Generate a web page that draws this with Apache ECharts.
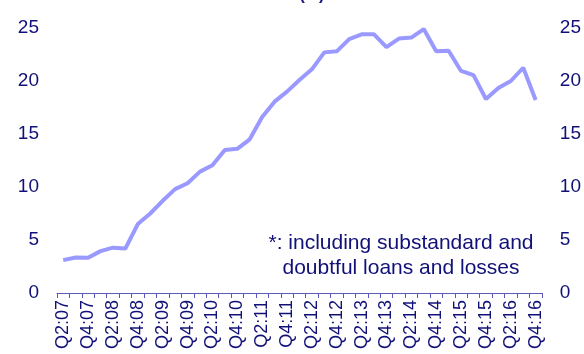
<!DOCTYPE html>
<html>
<head>
<meta charset="utf-8">
<script src="https://cdn.jsdelivr.net/npm/echarts@6/dist/echarts.min.js"></script>
<style>
html,body{margin:0;padding:0;background:#fff;}
#c{width:584px;height:354px;}
</style>
</head>
<body>
<div id="c"></div>
<script>
const quarters = ["Q2:07","Q3:07","Q4:07",
  "Q1:08","Q2:08","Q3:08","Q4:08",
  "Q1:09","Q2:09","Q3:09","Q4:09",
  "Q1:10","Q2:10","Q3:10","Q4:10",
  "Q1:11","Q2:11","Q3:11","Q4:11",
  "Q1:12","Q2:12","Q3:12","Q4:12",
  "Q1:13","Q2:13","Q3:13","Q4:13",
  "Q1:14","Q2:14","Q3:14","Q4:14",
  "Q1:15","Q2:15","Q3:15","Q4:15",
  "Q1:16","Q2:16","Q3:16","Q4:16"];
const nplRatio = [3.1,3.35,3.33,3.95,4.28,4.2,6.5,7.5,8.7,9.8,10.35,11.45,12.05,13.5,13.6,14.5,16.6,18.05,19.0,20.1,21.1,22.7,22.8,23.95,24.4,24.4,23.2,24.0,24.1,24.9,22.8,22.85,20.95,20.55,18.3,19.35,20.0,21.25,18.2];
const yTicks = [0,5,10,15,20,25];
const titleText = "(%)";
const noteText = "*: including substandard and\ndoubtful loans and losses";

const navy = "#101078";
const font = "Liberation Sans, Arial, sans-serif";
const chart = echarts.init(document.getElementById('c'), null, {renderer:'canvas'});
const yAxisCommon = {
  type:'value', min:yTicks[0], max:yTicks[yTicks.length-1], interval:5,
  axisLine:{show:false}, axisTick:{show:false}, splitLine:{show:false},
  axisLabel:{color:navy, fontSize:19, fontFamily:font, margin:18}
};
chart.setOption({
  animation:false,
  grid:{left:57, right:37, top:28, bottom:61, containLabel:false},
  xAxis:{
    type:'category', data:quarters, boundaryGap:true,
    axisLine:{lineStyle:{color:'#5a5ab8', width:1}},
    axisTick:{show:true, interval:0, length:5, inside:false, lineStyle:{color:'#5a5ab8'}},
    axisLabel:{interval:1, rotate:90, color:navy, fontSize:18, fontFamily:font, margin:7}
  },
  yAxis:[
    Object.assign({position:'left'}, yAxisCommon),
    Object.assign({position:'right'}, yAxisCommon, {axisLabel:Object.assign({}, yAxisCommon.axisLabel)})
  ],
  series:[{
    type:'line', data:nplRatio, yAxisIndex:0, symbol:'none', smooth:false,
    lineStyle:{color:'#9999ff', width:4}
  }],
  graphic:[
    {type:'text', x:312, y:4, style:{text:titleText, fill:navy, font:'bold 16px '+font, align:'center', verticalAlign:'bottom'}},
    {type:'text', x:401, y:231, style:{text:noteText, fill:navy, font:'21px '+font, align:'center', verticalAlign:'top', lineHeight:25}}
  ]
});
</script>
</body>
</html>
